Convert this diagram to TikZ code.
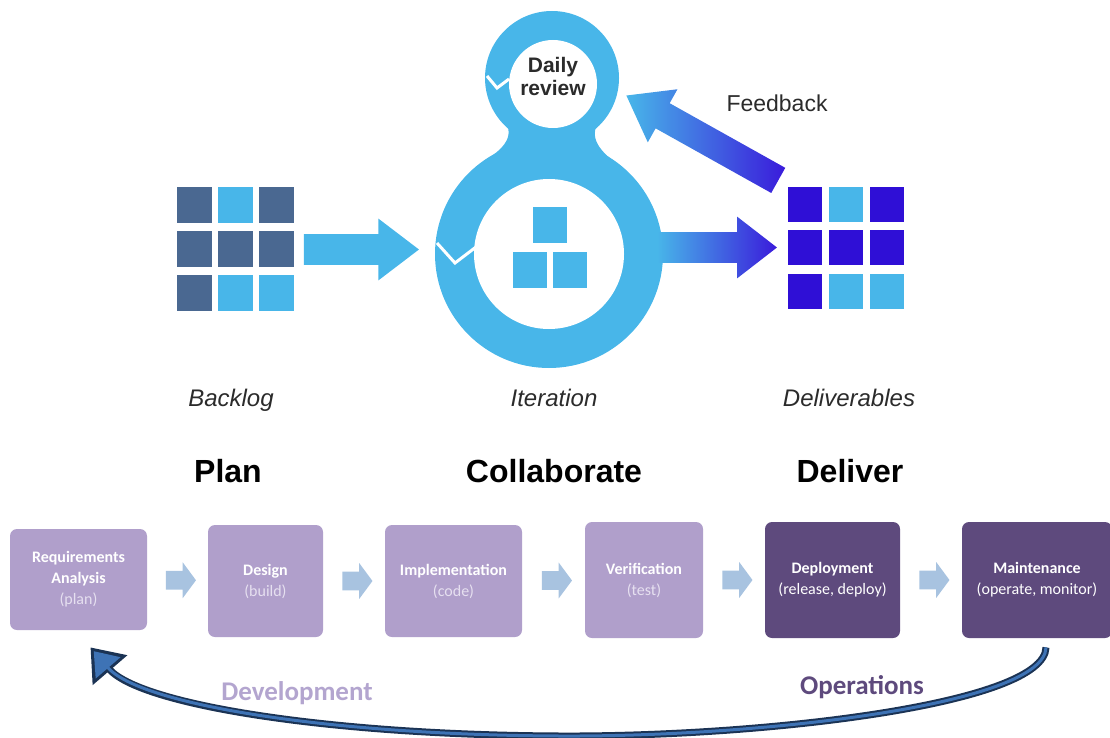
\documentclass[tikz,border=0pt]{standalone}
\usepackage{fontspec}
\setmainfont{Liberation Sans}
\newfontfamily\boxfont{Carlito}
\usetikzlibrary{positioning,calc,shapes.arrows,arrows.meta}
\definecolor{sky}{HTML}{48B6E9}
\definecolor{slate}{HTML}{4A6891}
\definecolor{indigo}{HTML}{2F0FD6}
\definecolor{arrowend}{HTML}{3A1BDB}
\definecolor{lilac}{HTML}{B09FCB}
\definecolor{plum}{HTML}{5E4A7D}
\definecolor{pale}{HTML}{A8C3E0}
\definecolor{navy}{HTML}{1B3354}
\definecolor{loopblue}{HTML}{3E73B5}
\definecolor{ink}{HTML}{2B2B2B}
\definecolor{devtext}{HTML}{B3A5CF}
\definecolor{paren}{HTML}{E6E0F0}

\begin{document}
\begin{tikzpicture}[x=1pt,y=-1pt,>=stealth,thick]
\tikzstyle{cell}=[rectangle,inner sep=0pt,minimum width=35pt,minimum height=36pt]
\tikzstyle{stage}=[rectangle,rounded corners=7pt,align=center,text=white,font=\boxfont\fontsize{16}{21}\selectfont,inner sep=2pt]
\tikzstyle{fatarrow}=[single arrow,inner xsep=0pt,inner ysep=15pt,single arrow head extend=15.5pt]
\tikzstyle{steparrow}=[single arrow,fill=pale,inner xsep=0pt,inner ysep=9pt,single arrow head extend=8.5pt,single arrow tip angle=107,minimum height=30pt]
\tikzstyle{tag}=[font=\itshape\fontsize{24}{28}\selectfont,text=ink,anchor=base]
\tikzstyle{phase}=[font=\bfseries\fontsize{32}{38}\selectfont,text=black,anchor=base]
\tikzstyle{side}=[font=\boxfont\bfseries\fontsize{27}{32}\selectfont,anchor=base]

\useasboundingbox (0,0) rectangle (1110,738);

% backlog and deliverables grids
\node[minimum width=117pt,minimum height=125pt,inner sep=0pt] (backlog) at (235.5,249.5) {};
\foreach \c [count=\i from 0] in {slate,sky,slate,slate,slate,slate,slate,sky,sky}{
  \pgfmathtruncatemacro\col{mod(\i,3)}
  \pgfmathtruncatemacro\row{div(\i,3)}
  \node[cell,fill=\c] at ($(backlog.north west)+(17.5+41*\col,18+44*\row)$) {};
}
\node[minimum width=115pt,minimum height=121pt,inner sep=0pt] (deliver) at (845.5,247.5) {};
\foreach \c [count=\i from 0] in {indigo,sky,indigo,indigo,indigo,indigo,indigo,sky,sky}{
  \pgfmathtruncatemacro\col{mod(\i,3)}
  \pgfmathtruncatemacro\row{div(\i,3)}
  \node[cell,fill=\c,minimum width=34pt,minimum height=35pt] at ($(deliver.north west)+(17+41*\col,17.5+43.5*\row)$) {};
}

% the iteration loop
\node[circle,minimum size=228pt,inner sep=0pt] (iter) at (549,254) {};
\coordinate (loop) at (552,78);
\fill[sky] (iter) circle (114);
\fill[sky] (loop) circle (67);
\fill[sky] (497,112) .. controls (514,128) and (514,142) .. (486,160) -- (612,160) .. controls (590,142) and (590,128) .. (607,112) -- cycle;
\fill[white] (iter) circle (75);
\fill[white] ($(loop)+(1,6)$) circle (44);
\draw[white,line width=3pt] (437,243) -- (455,263) -- (476,247);
\draw[white,line width=3pt] (487,76) -- (497,88) -- (509,79);
\foreach \dx/\dy in {1/-29,-19/16,21/16}
  \node[cell,fill=sky,minimum width=34pt] at ($(iter)+(\dx,\dy)$) {};
\node[font=\bfseries\fontsize{21}{23}\selectfont,align=center,text=ink] (daily) at (553,76) {Daily\\review};

% block arrows
\node[fatarrow,fill=sky,minimum height=115pt,single arrow tip angle=74.6,anchor=tip] (planarrow) at ($(iter.west |- backlog.east)+(-15,0)$) {};
\node[fatarrow,left color=sky,right color=arrowend,minimum height=120pt,single arrow tip angle=75.5,anchor=tip] (shiparrow) at ($(deliver.west)+(-10,0)$) {};
\node[fatarrow,inner ysep=14pt,single arrow head extend=16pt,left color=sky,right color=arrowend,minimum height=174pt,single arrow tip angle=72.4,rotate=150.8,anchor=tail] (feedarrow) at ($(deliver.north west)+(-9,-6)$) {};
\node[font=\fontsize{23}{27}\selectfont,text=ink] (feedback) at (777,103.5) {Feedback};

% captions
\node[tag] (backlogtag) at (231,406) {Backlog};
\node[tag] (itertag) at (554,406) {Iteration};
\node[tag] (delivertag) at (849,406) {Deliverables};
\node[phase] (plan) at (228,482) {Plan};
\node[phase] (collab) at (554,482) {Collaborate};
\node[phase] (deliv) at (850,482) {Deliver};

% life cycle stages
\node[stage,fill=lilac,minimum width=137pt,minimum height=101pt] (req) at (78.5,579.5) {\textbf{Requirements}\\\textbf{Analysis}\\{\color{paren}(plan)}};
\node[stage,fill=lilac,minimum width=115pt,minimum height=112pt] (design) at (265.5,581) {\textbf{Design}\\{\color{paren}(build)}};
\node[stage,fill=lilac,minimum width=137pt,minimum height=112pt] (impl) at (453.5,581) {\textbf{Implementation}\\{\color{paren}(code)}};
\node[stage,fill=lilac,minimum width=118pt,minimum height=116pt] (verif) at (644,580) {\textbf{Verification}\\{\color{paren}(test)}};
\node[stage,fill=plum,minimum width=135pt,minimum height=116pt] (deploy) at (832.5,580) {\textbf{Deployment}\\(release, deploy)};
\node[stage,fill=plum,minimum width=150pt,minimum height=116pt] (maint) at (1037,580) {\textbf{Maintenance}\\(operate, monitor)};
\foreach \a/\b in {req/design,design/impl,impl/verif,verif/deploy,deploy/maint}
  \node[steparrow] at ($(\a.east)!0.5!(\b.west)$) {};

% back from operations to development
\newcommand\returnpath{($(maint.south)+(9,9)$) .. controls (1045,705) and (760,737) .. (560,736) .. controls (330,735) and (140,705) .. ($(req.south)+(12,17)$)}
\draw[navy,line width=7pt,-{Triangle[length=30pt,width=44pt]}] \returnpath;
\draw[loopblue,line width=3pt,shorten >=5pt,-{Triangle[length=22pt,width=32pt]}] \returnpath;
\node[side,text=devtext] (dev) at (297,700) {Development};
\node[side,text=plum] (ops) at (862,694) {Operations};
\end{tikzpicture}
\end{document}
